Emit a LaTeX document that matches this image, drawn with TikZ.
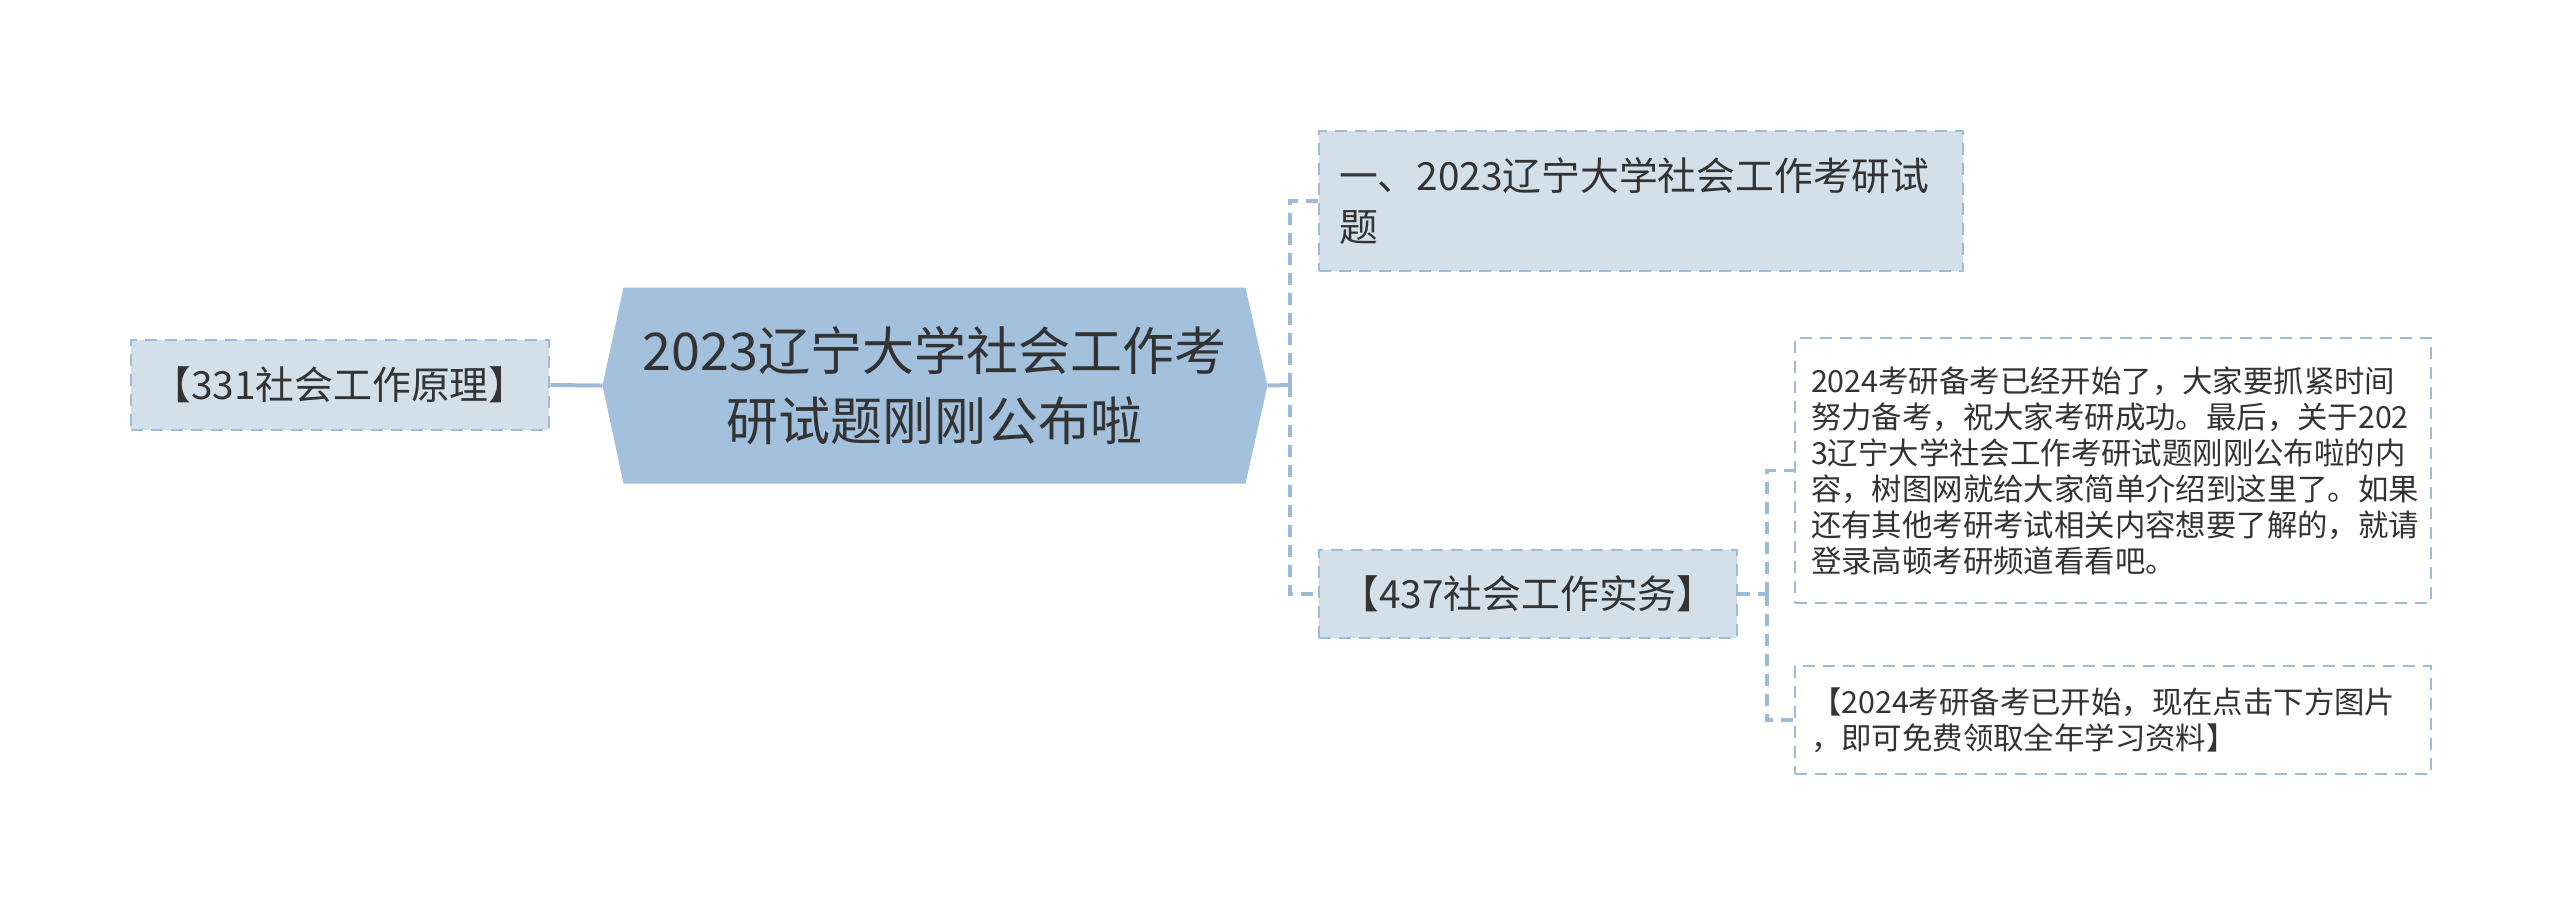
\documentclass[tikz,border=0pt]{standalone}
\usepackage{fontspec}
\setmainfont{Noto Sans CJK SC}
\usetikzlibrary{backgrounds}
\definecolor{hubfill}{HTML}{A3C0DC}
\definecolor{boxfill}{HTML}{D3E0EA}
\definecolor{edge}{HTML}{9DBAD6}
\definecolor{ink}{HTML}{333333}

\begin{document}
\begin{tikzpicture}[x=0.25pt, y=-0.25pt, line width=0.75pt,
        topic/.style = {draw=edge, line width=0.7pt, dash pattern=on 3pt off 2pt, fill=boxfill, text=ink, inner sep=0pt, font=\fontsize{9.7pt}{12.7pt}\selectfont},
        note/.style = {draw=edge, line width=0.6pt, dash pattern=on 3pt off 2pt, fill=white, text=ink, inner xsep=4pt, inner ysep=0pt, text width=151pt, align=left, font=\fontsize{7.6pt}{9pt}\selectfont},
        hub/.style = {text=ink, inner sep=0pt, minimum width=154.75pt, minimum height=48.25pt, align=center, font=\fontsize{13pt}{17.5pt}\selectfont},
        link/.style = {draw=edge, line width=1pt},
        dlink/.style = {draw=edge, line width=0.8pt, dash pattern=on 3pt off 2pt}]
        \useasboundingbox (0,0) rectangle (2560,904);
        % central topic
        \node[hub] (hub) at (934.5,385.5) {2023辽宁大学社会工作考\\研试题刚刚公布啦};
        \begin{scope}[on background layer]
            \fill[hubfill] (hub.north west) -- ([xshift=-5.25pt]hub.west) -- (hub.south west) -- (hub.south east) -- ([xshift=5.5pt]hub.east) -- (hub.north east) -- cycle;
        \end{scope}
        \coordinate (hubL) at ([xshift=-5.25pt]hub.west);
        \coordinate (hubR) at ([xshift=5.5pt]hub.east);
        % branches
        \node[topic, minimum width=104.5pt, minimum height=22.5pt] (l1) at (340,385) {【331社会工作原理】};
        \node[topic, inner xsep=5pt, text width=151pt, align=left, minimum height=35pt] (r1) at (1641,201) {一、2023辽宁大学社会工作考研试\\题};
        \node[topic, minimum width=104.5pt, minimum height=22pt] (r2) at (1528,594) {【437社会工作实务】};
        % notes
        \node[note, minimum height=66.25pt] (d1) at (2113,470.5) {2024考研备考已经开始了，大家要抓紧时间\\努力备考，祝大家考研成功。最后，关于202\\3辽宁大学社会工作考研试题刚刚公布啦的内\\容，树图网就给大家简单介绍到这里了。如果\\还有其他考研考试相关内容想要了解的，就请\\登录高顿考研频道看看吧。};
        \node[note, minimum height=27pt] (d2) at (2113,720) {【2024考研备考已开始，现在点击下方图片\\，即可免费领取全年学习资料】};
        % connectors
        \coordinate (j1) at (1290,385);
        \coordinate (j2) at (1767,594);
        \draw[link] (hubL) -- (l1.east);
        \draw[link] (hubR) -- (j1);
        \draw[dlink] (j1) |- (r1.west);
        \draw[dlink] (j1) |- (r2.west);
        \draw[dlink] (r2.east) -- (j2);
        \draw[dlink] (j2) |- (d1.west);
        \draw[dlink] (j2) |- (d2.west);
    \end{tikzpicture}
\end{document}
